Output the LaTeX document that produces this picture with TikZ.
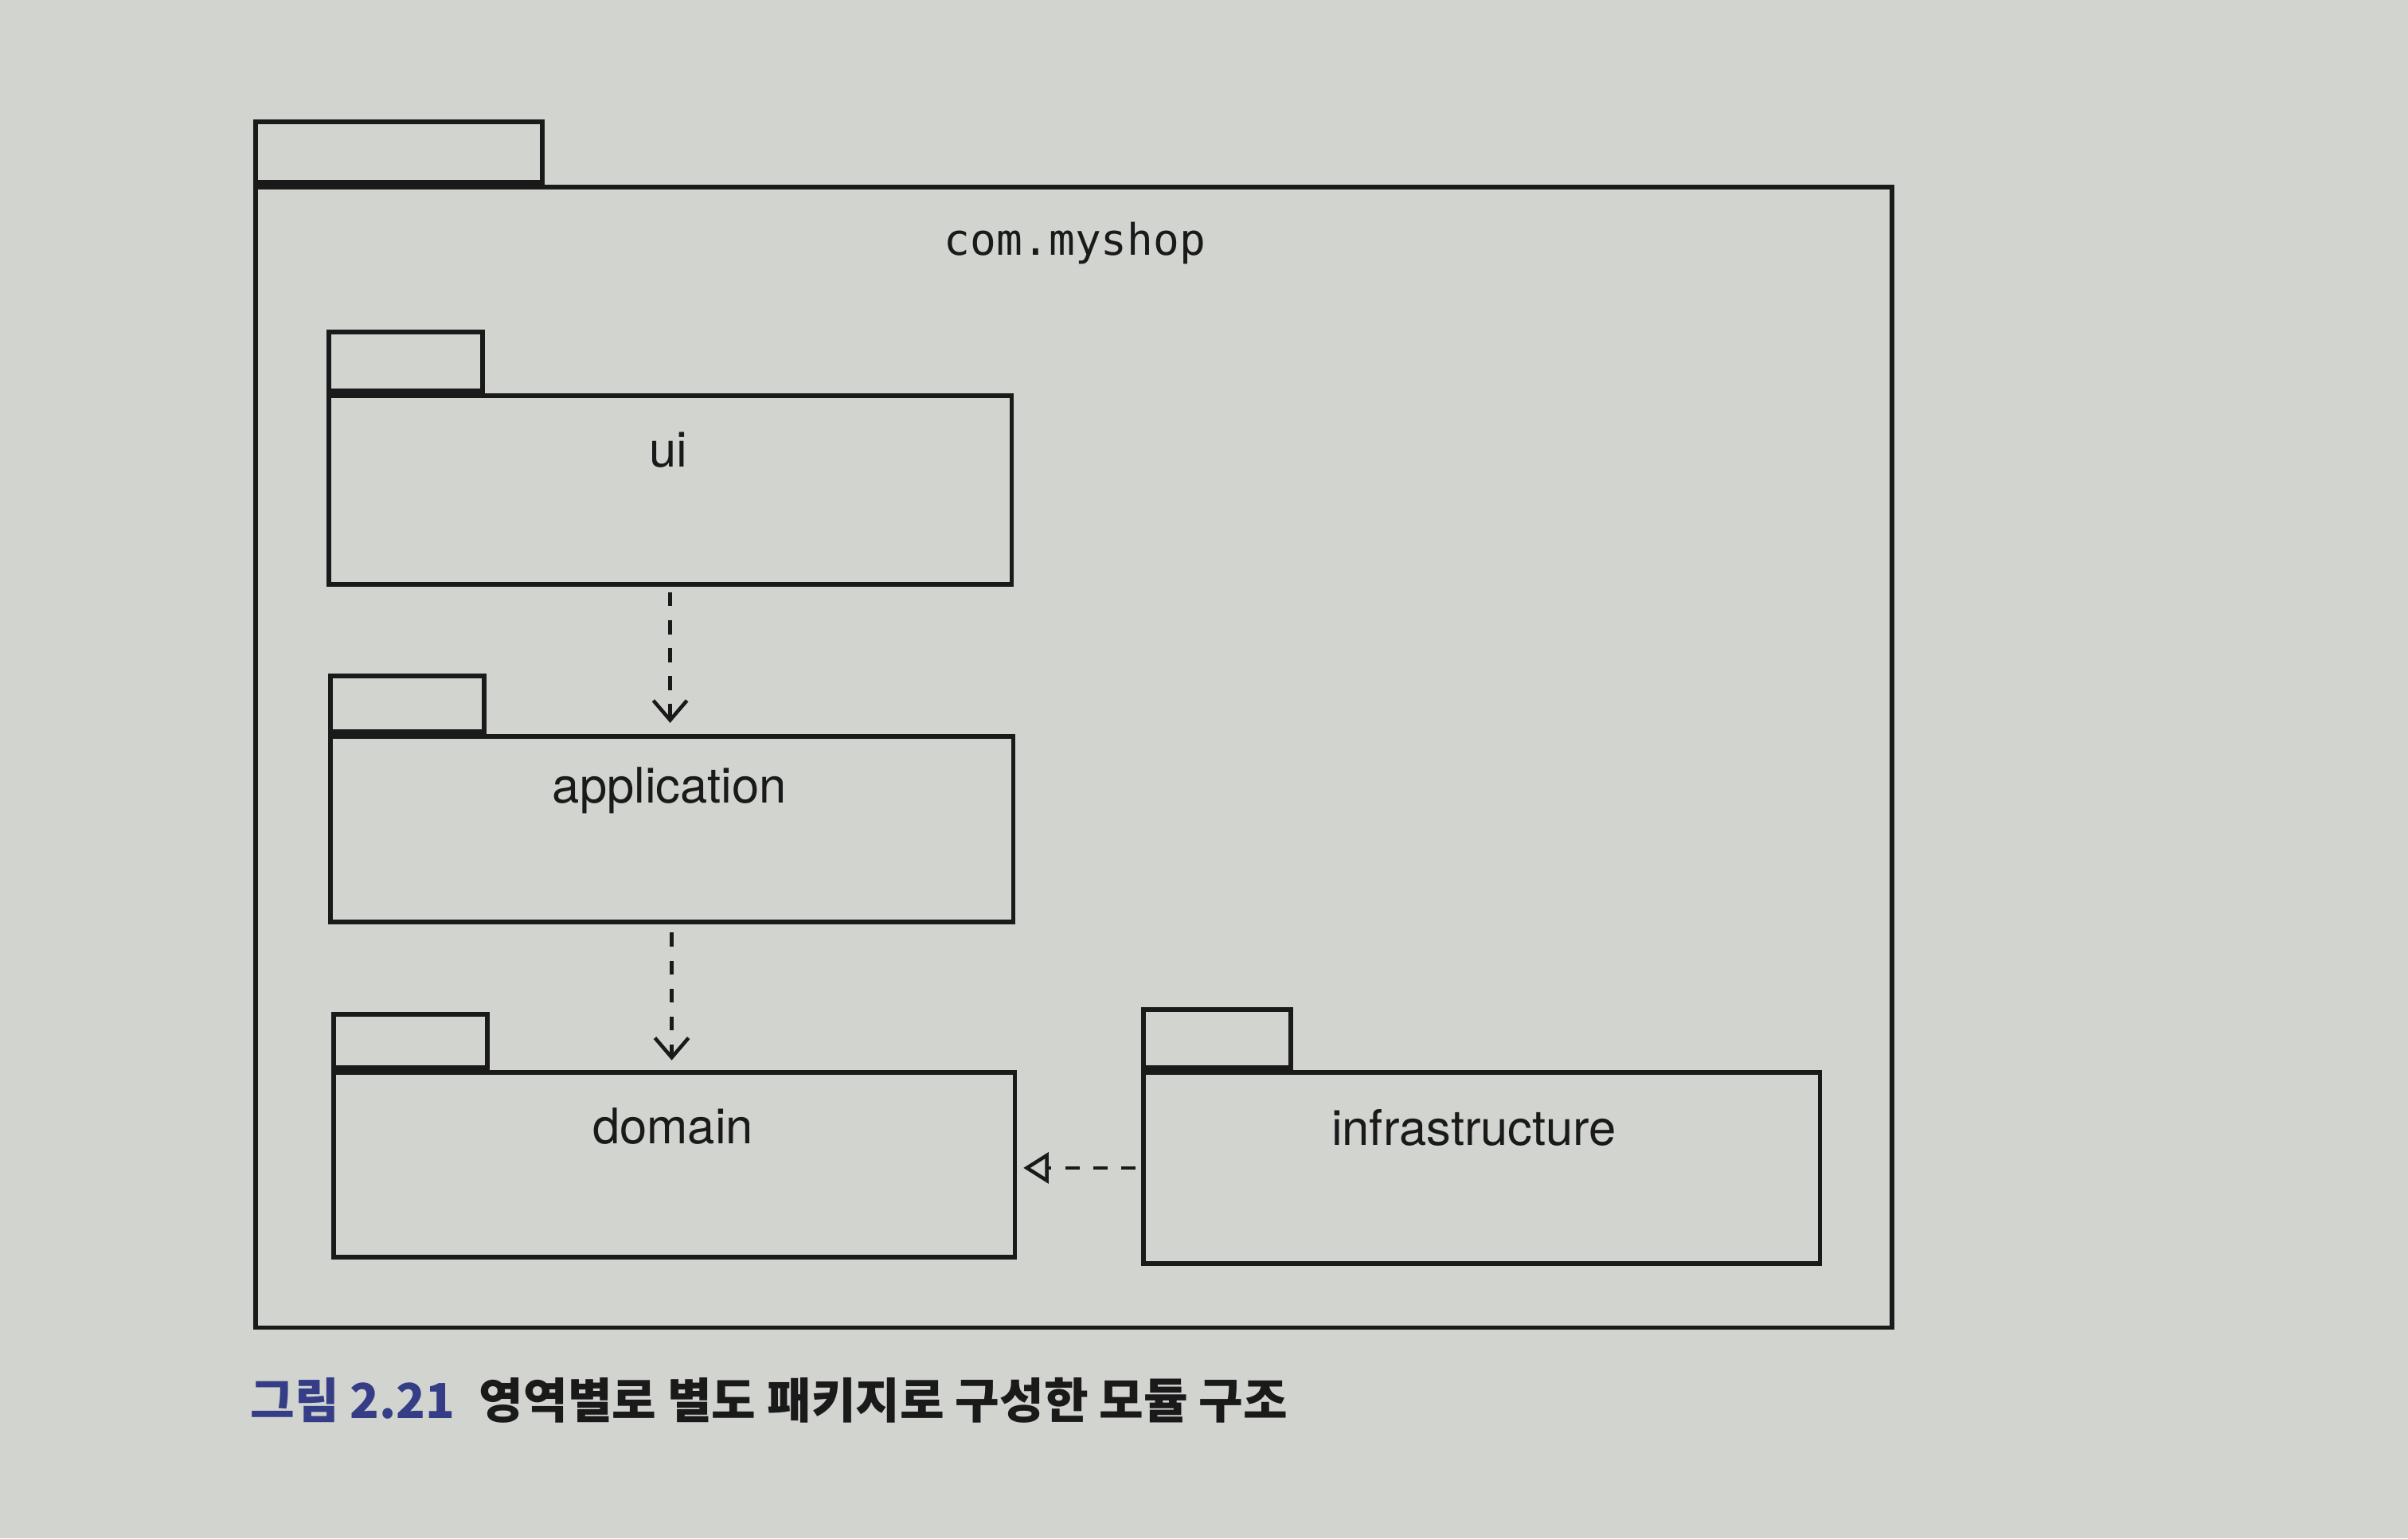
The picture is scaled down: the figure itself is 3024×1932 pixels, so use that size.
\documentclass[tikz,border=0pt]{standalone}
\usepackage{fontspec}
\setmainfont{TeX Gyre Heros}
\newfontfamily\monof{DejaVu Sans Mono}
\newfontfamily\cjk{Noto Sans CJK KR}
\usetikzlibrary{arrows.meta}
\definecolor{paper}{HTML}{D2D4D0}
\definecolor{ink}{HTML}{1A1A1A}
\definecolor{navy}{HTML}{343D85}
\tikzset{
  pkg/.style={draw=ink, line width=1.6pt, fill=paper, rectangle, inner sep=0pt, anchor=north west},
  pkgtab/.style={draw=ink, line width=1.6pt, fill=paper, rectangle, inner sep=0pt, anchor=south west},
  lbl/.style={text=ink, font=\fontsize{17.5}{20}\selectfont, inner sep=0pt},
  dep/.style={draw=ink, line width=1.3pt, dash pattern=on 5pt off 5pt,
    -{Straight Barb[length=7pt,width=12pt,line width=1.3pt]}},
  real/.style={draw=ink, line width=1.3pt, dash pattern=on 5pt off 5pt,
    -{Triangle[open,length=9pt,width=11pt,line width=1.3pt]}}
}
\begin{document}
\begin{tikzpicture}[x=0.01cm,y=-0.01cm]
\fill[paper] (0,0) rectangle (3024,1932);
\useasboundingbox (0,0) rectangle (3024,1932);
% outer package
\node[pkg, minimum width=20.54cm, minimum height=14.32cm] (shop) at (318,232) {};
\node[pkgtab, minimum width=3.6cm, minimum height=0.76cm] (shoptab) at (shop.north west) {};
\node[text=ink, font=\monof\fontsize{15.5}{18}\selectfont, inner sep=0pt] (shopl) at (1350,305) {com.myshop};
% ui
\node[pkg, minimum width=8.57cm, minimum height=2.37cm] (ui) at (410,494) {};
\node[pkgtab, minimum width=1.93cm, minimum height=0.74cm] (uitab) at (ui.north west) {};
\node[lbl] (uil) at (839,565) {ui};
% application
\node[pkg, minimum width=8.57cm, minimum height=2.33cm] (app) at (412,922) {};
\node[pkgtab, minimum width=1.93cm, minimum height=0.70cm] (apptab) at (app.north west) {};
\node[lbl] (appl) at (841,993) {application};
% domain
\node[pkg, minimum width=8.55cm, minimum height=2.32cm] (dom) at (416,1344) {};
\node[pkgtab, minimum width=1.93cm, minimum height=0.67cm] (domtab) at (dom.north west) {};
\node[lbl] (doml) at (845,1414) {domain};
% infrastructure
\node[pkg, minimum width=8.49cm, minimum height=2.40cm] (inf) at (1433,1344) {};
\node[pkgtab, minimum width=1.85cm, minimum height=0.73cm] (inftab) at (inf.north west) {};
\node[lbl] (infl) at (1851,1416) {infrastructure};
% dependencies
\draw[dep, shorten <=2pt, shorten >=4pt] (ui.south) -- (ui.south |- app.north);
\draw[dep, shorten <=3pt, shorten >=3.5pt] (app.south) -- (app.south |- dom.north);
\draw[real, shorten <=2pt, shorten >=2.3pt] (inf.west) -- (inf.west -| dom.east);
% caption
\node[anchor=west, inner sep=0pt, font=\cjk\bfseries\fontsize{17.2}{20}\selectfont] (cap) at (314,1759)
  {\textcolor{navy}{그림 2.21}\hspace{0.5em}\textcolor{ink}{영역별로 별도 패키지로 구성한 모듈 구조}};
\end{tikzpicture}
\end{document}
